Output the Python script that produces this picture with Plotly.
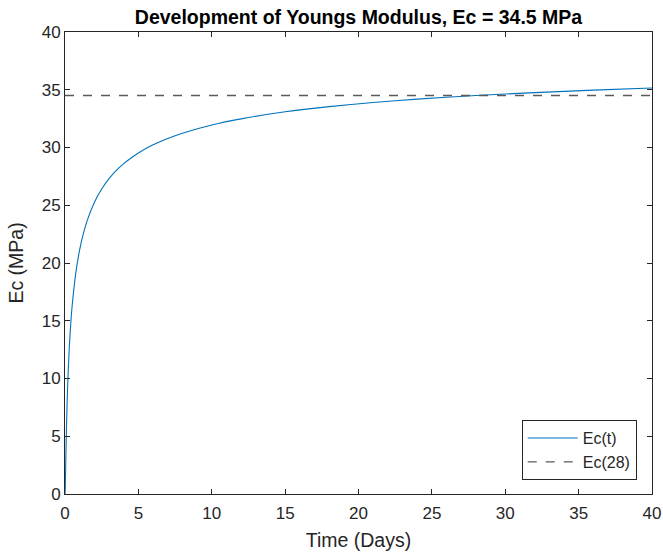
import plotly.graph_objects as go

# Data
time_days = [0, 0.02, 0.05, 0.1, 0.15, 0.2, 0.3, 0.4, 0.5, 0.75, 1, 1.25, 1.5, 2, 2.5,
             3, 3.5, 4, 4.5, 5, 6, 7, 8, 10, 12, 15, 18, 21, 24, 28, 32, 36, 40]
ec_t = [0, 0.54, 2.61, 5.74, 8.15, 10.04, 12.85, 14.90, 16.47, 19.27, 21.15, 22.54,
        23.63, 25.24, 26.40, 27.30, 28.01, 28.60, 29.09, 29.53, 30.23, 30.78, 31.24,
        31.95, 32.48, 33.09, 33.54, 33.90, 34.19, 34.50, 34.75, 34.97, 35.15]
ec28 = 34.5
x_range = [0, 40]
y_range = [0, 40]
x_ticks = [0, 5, 10, 15, 20, 25, 30, 35, 40]
y_ticks = [0, 5, 10, 15, 20, 25, 30, 35, 40]

FONT = "Liberation Sans, Arial, Helvetica, sans-serif"
AX = "#262626"

fig = go.Figure()
fig.add_trace(go.Scatter(x=time_days, y=ec_t, mode="lines", name="Ec(t)",
                         line=dict(color="#0072BD", width=1.1, shape="spline", smoothing=0.5)))
fig.add_trace(go.Scatter(x=x_range, y=[ec28, ec28], mode="lines", name="Ec(28)",
                         line=dict(color="#5a5a5a", width=1.3, dash="dash")))

axis_common = dict(showgrid=False, zeroline=False, showline=True, linecolor=AX, linewidth=1,
                   mirror="ticks", ticks="inside", ticklen=5, tickcolor=AX, automargin=False,
                   tickfont=dict(family=FONT, size=17, color=AX))

fig.update_layout(
    width=663, height=553,
    margin=dict(l=65, r=11, t=32, b=59),
    paper_bgcolor="white", plot_bgcolor="white",
    title=dict(text="<b>Development of Youngs Modulus, Ec = 34.5 MPa</b>",
               x=358.5 / 663, xanchor="center",
               y=1 - 17 / 553, yanchor="middle",
               font=dict(family=FONT, size=19.5, color="black")),
    xaxis=dict(range=x_range, tickvals=x_ticks, ticklabelstandoff=4, **axis_common,
               title=dict(text="Time (Days)", font=dict(family=FONT, size=19.5, color=AX), standoff=10)),
    yaxis=dict(range=y_range, tickvals=y_ticks, **axis_common,
               title=dict(text="Ec (MPa)", font=dict(family=FONT, size=19.5, color=AX), standoff=12)),
    legend=dict(x=0.974, y=0.03, xanchor="right", yanchor="bottom",
                bgcolor="white", bordercolor=AX, borderwidth=1,
                font=dict(family=FONT, size=16, color=AX),
                tracegroupgap=0, itemwidth=50),
    showlegend=True,
)

fig.write_html("out.html")
